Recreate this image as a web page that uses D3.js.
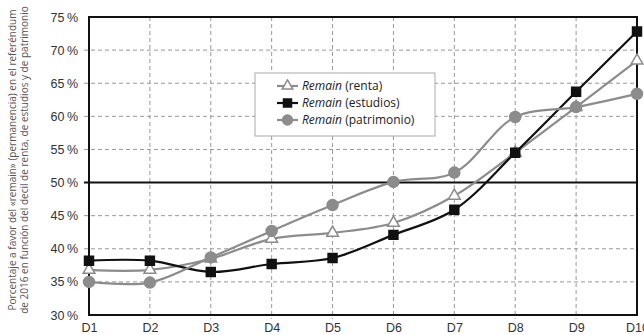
<!DOCTYPE html>
<html>
<head>
<meta charset="utf-8">
<script src="https://cdn.jsdelivr.net/npm/d3@7"></script>
<style>
  body { margin: 0; background: #fff; }
  svg { display: block; font-family: "Open Sans", "Noto Sans", sans-serif; }
</style>
</head>
<body>
<script>
const width = 644;
const height = 335;
const margin = {top: 17, right: 6, bottom: 20, left: 89};

// deciles on the x axis
const deciles = ["D1","D2","D3","D4","D5","D6","D7","D8","D9","D10"];
const yTicks = [30,35,40,45,50,55,60,65,70,75];

// % remain by decile
const renta      = [36.8, 36.8, 38.5, 41.5, 42.4, 43.9, 48.0, 54.5, 61.4, 68.4];
const estudios   = [38.2, 38.2, 36.5, 37.7, 38.6, 42.1, 45.9, 54.5, 63.7, 72.8];
const patrimonio = [35.0, 34.9, 38.7, 42.7, 46.6, 50.1, 51.5, 59.9, 61.4, 63.4];

const series = [
  {name: "(renta)", values: renta, color: "#8c8c8c", symbol: d3.symbolTriangle, fill: "#fff", size: 60},
  {name: "(estudios)", values: estudios, color: "#111", symbol: d3.symbolSquare, fill: "#111", size: 80},
  {name: "(patrimonio)", values: patrimonio, color: "#8c8c8c", symbol: d3.symbolCircle, fill: "#8c8c8c", size: 95}
];

const svg = d3.select(document.body).append("svg")
    .attr("width", width)
    .attr("height", height);

const x = d3.scalePoint()
    .domain(deciles)
    .range([margin.left, width - margin.right - 1]);

const y = d3.scaleLinear()
    .domain([30, 75])
    .range([height - margin.bottom, margin.top]);

// grid
const grid = svg.append("g")
    .attr("stroke", "#999")
    .attr("stroke-width", 1)
    .attr("stroke-dasharray", "4,3");

grid.selectAll("line.h")
  .data(yTicks.filter(d => d != 30 && d != 75 && d != 50))
  .join("line")
    .attr("x1", margin.left - 5)
    .attr("x2", x("D10"))
    .attr("y1", d => y(d))
    .attr("y2", d => y(d));

grid.selectAll("line.v")
  .data(deciles.slice(1, -1))
  .join("line")
    .attr("class", "v")
    .attr("x1", d => x(d))
    .attr("x2", d => x(d))
    .attr("y1", y(75))
    .attr("y2", y(30) + 4);

// axes
const yAxis = svg.append("g")
    .attr("transform", `translate(${margin.left},0)`)
    .call(d3.axisLeft(y).tickValues(yTicks).tickSize(0).tickPadding(11)
      .tickFormat(d => d + "\u2009%"));
yAxis.select(".domain").remove();
yAxis.selectAll("text")
    .attr("fill", "#333")
    .attr("font-size", 12.5);

const xAxis = svg.append("g")
    .attr("transform", `translate(0,${y(30)})`)
    .call(d3.axisBottom(x).tickSize(0).tickPadding(8));
xAxis.select(".domain").remove();
xAxis.selectAll("text")
    .attr("fill", "#333")
    .attr("font-size", 12.5);

// frame and 50% line
svg.append("rect")
    .attr("x", x("D1"))
    .attr("y", y(75))
    .attr("width", x("D10") - x("D1"))
    .attr("height", y(30) - y(75))
    .attr("fill", "none")
    .attr("stroke", "#111")
    .attr("stroke-width", 2);

svg.append("line")
    .attr("x1", margin.left - 5)
    .attr("x2", x("D10"))
    .attr("y1", y(50))
    .attr("y2", y(50))
    .attr("stroke", "#111")
    .attr("stroke-width", 2);

// y title
const title = svg.append("text")
    .attr("transform", `translate(4,${(y(30) + y(75)) / 2 - 6}) rotate(-90)`)
    .attr("text-anchor", "middle")
    .attr("fill", "#555")
    .attr("font-size", 10);
title.append("tspan").attr("x", 0).attr("y", 12)
    .text("Porcentaje a favor del «remain» (permanencia) en el referéndum");
title.append("tspan").attr("x", 0).attr("y", 23.5)
    .text("de 2016 en función del decil de renta, de estudios y de patrimonio");

// lines
const line = d3.line()
    .x((d, i) => x(deciles[i]))
    .y(d => y(d))
    .curve(d3.curveCatmullRom.alpha(0.5));

const sg = svg.append("g").selectAll("g")
  .data(series)
  .join("g");

sg.append("path")
    .attr("d", d => line(d.values))
    .attr("fill", "none")
    .attr("stroke", d => d.color)
    .attr("stroke-width", 2.2);

sg.each(function(s) {
  d3.select(this).selectAll("path.pt")
    .data(s.values)
    .join("path")
      .attr("class", "pt")
      .attr("transform", (d, i) => `translate(${x(deciles[i])},${y(d)})`)
      .attr("d", d3.symbol(s.symbol, s.size))
      .attr("fill", s.fill)
      .attr("stroke", s.color)
      .attr("stroke-width", 1.5);
});

// legend
const lg = svg.append("g").attr("transform", "translate(255,73)");
lg.append("rect")
    .attr("width", 180)
    .attr("height", 63)
    .attr("fill", "#fff")
    .attr("stroke", "#aaa");

const item = lg.selectAll("g.item")
  .data(series)
  .join("g")
    .attr("class", "item")
    .attr("transform", (d, i) => `translate(0,${13 + i * 17})`);

item.append("line")
    .attr("x1", 22).attr("x2", 43)
    .attr("stroke", d => d.color)
    .attr("stroke-width", 2.2);

item.append("path")
    .attr("transform", "translate(32.5,0)")
    .attr("d", d => d3.symbol(d.symbol, d.size * 0.8)())
    .attr("fill", d => d.fill)
    .attr("stroke", d => d.color)
    .attr("stroke-width", 1.5);

const lt = item.append("text")
    .attr("x", 47)
    .attr("dy", "0.35em")
    .attr("font-size", 12)
    .attr("fill", "#222");
lt.append("tspan").attr("font-style", "italic").text("Remain");
lt.append("tspan").text(d => " " + d.name);
</script>
</body>
</html>
